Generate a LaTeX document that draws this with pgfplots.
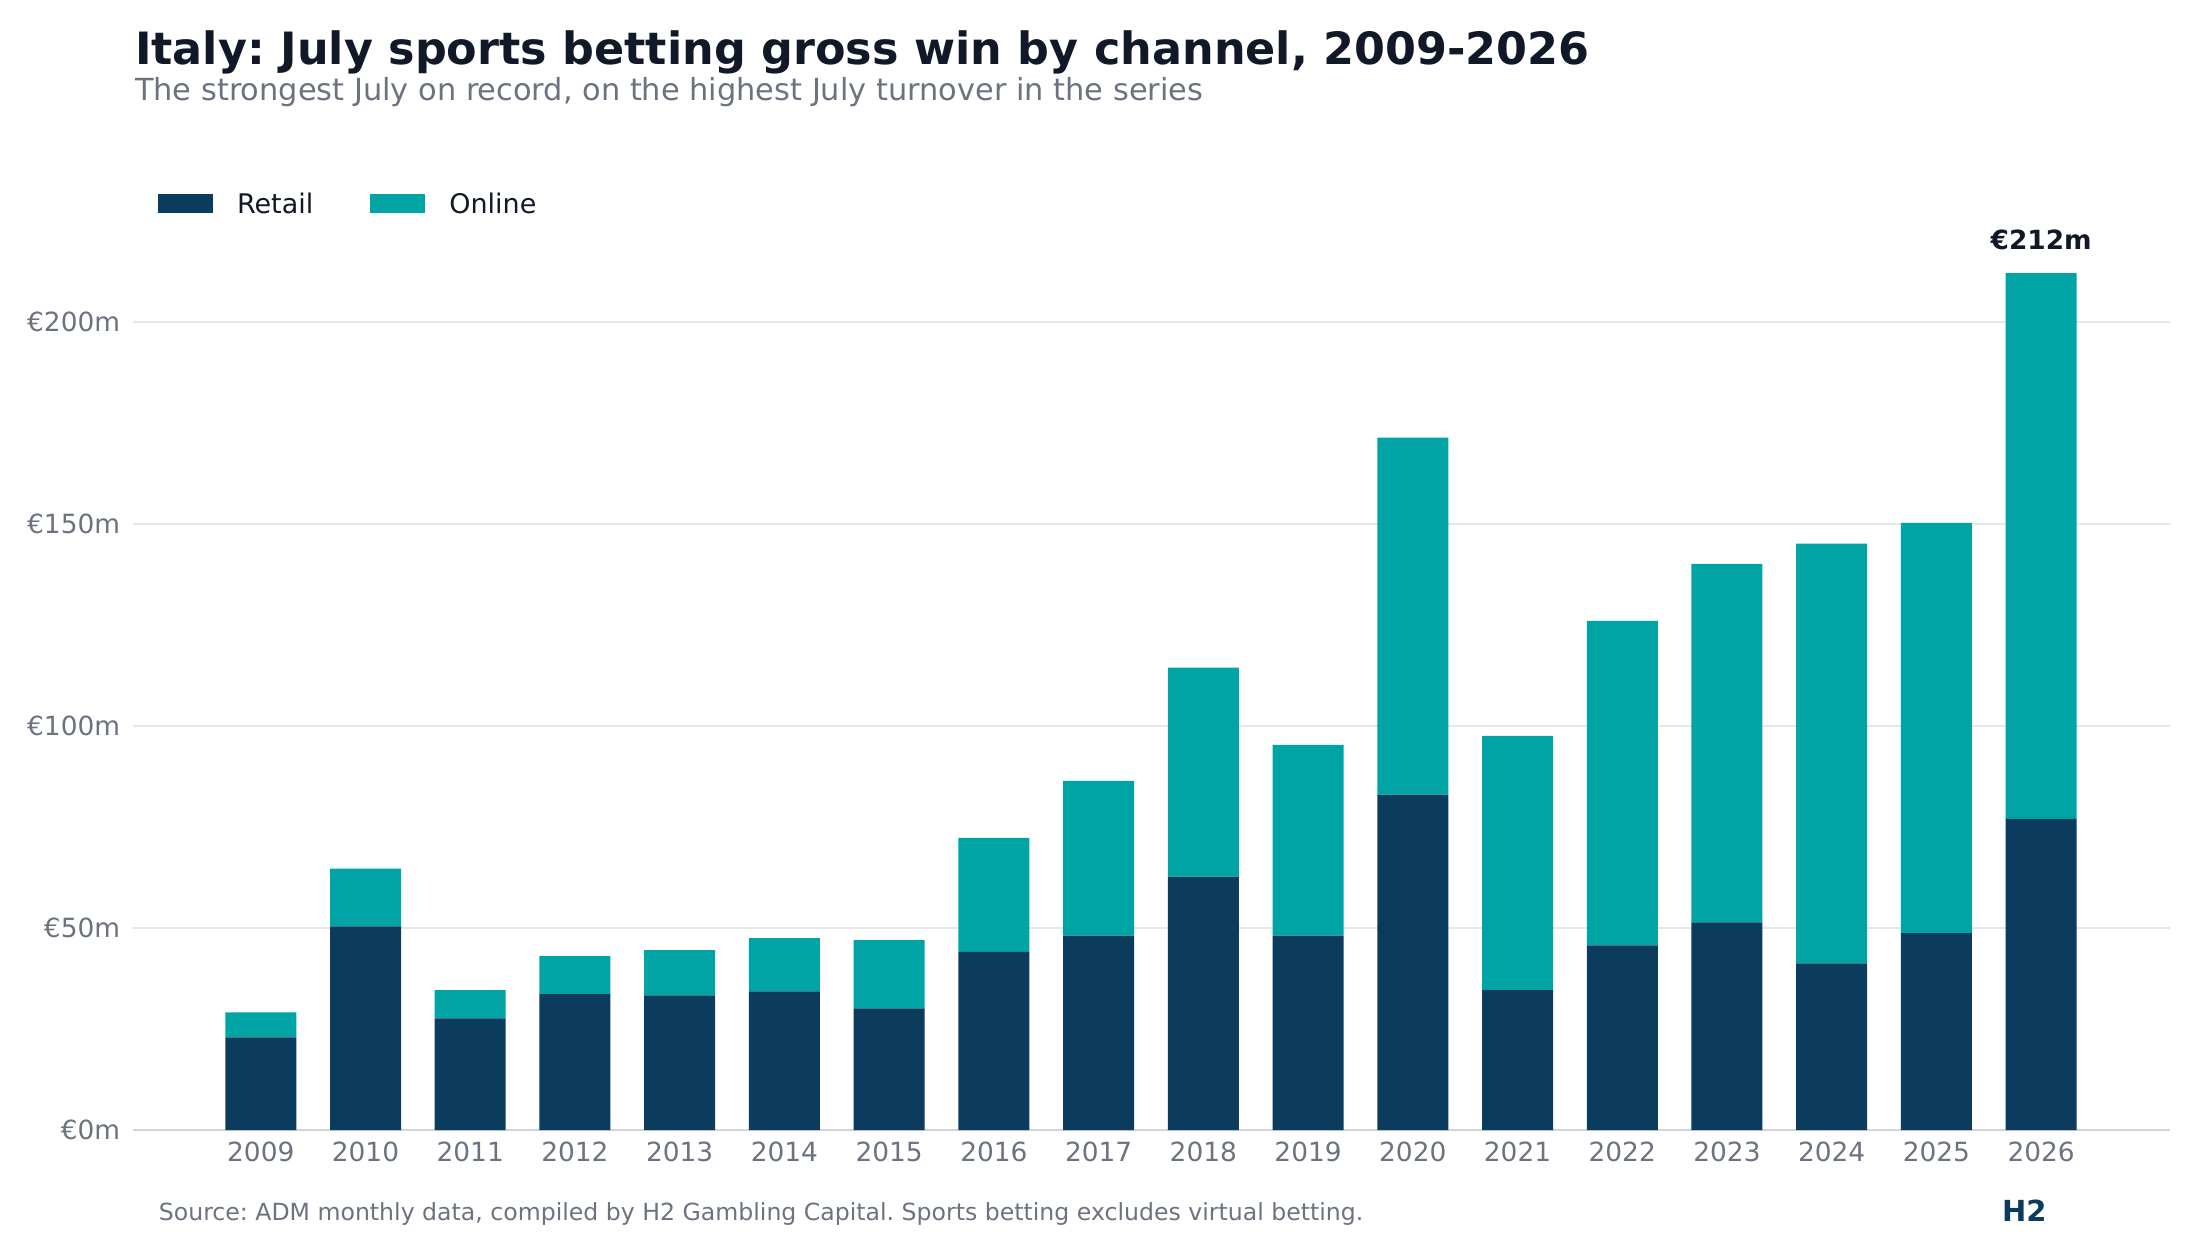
\documentclass[border=0pt]{standalone}
\usepackage{fontspec}
\setmainfont{DejaVu Sans}
\usepackage{pgfplots}
\pgfplotsset{compat=1.18}
\definecolor{retail}{HTML}{0B3C5D}
\definecolor{online}{HTML}{00A4A4}
\definecolor{titlec}{HTML}{111827}
\definecolor{subc}{HTML}{6B7280}
\definecolor{gridc}{HTML}{E5E7EB}
\definecolor{basec}{HTML}{D1D5DB}
\frenchspacing
\begin{document}
\begin{tikzpicture}
\useasboundingbox (0,0) rectangle (1100bp,620bp);
\begin{axis}[
  at={(66.5bp,55bp)}, anchor=south west,
  scale only axis, width=1018.5bp, height=454.67bp,
  xmin=-1.22, xmax=18.23, ymin=0, ymax=225,
  ybar stacked, bar width=35.5bp,
  xtick={0,...,17},
  xticklabels={2009,2010,2011,2012,2013,2014,2015,2016,2017,2018,2019,2020,2021,2022,2023,2024,2025,2026},
  ytick={0,50,100,150,200},
  yticklabels={€0m,€50m,€100m,€150m,€200m},
  axis lines*=left,
  x axis line style={draw=basec, line width=1.1bp},
  y axis line style={draw=none},
  major tick length=0pt,
  ymajorgrids, major grid style={draw=gridc, line width=1bp},
  tick label style={font=\fontsize{13.2bp}{15bp}\selectfont, text=subc},
  xticklabel style={anchor=north, inner sep=0pt, yshift=-5.8bp},
  yticklabel style={anchor=east, inner sep=0pt, xshift=-6.25bp},
  legend style={at={(axis description cs:0,1)}, anchor=south west, xshift=12.5bp, yshift=2bp,
    draw=none, fill=none, inner sep=0pt, outer sep=0pt,
    font=\fontsize{13.5bp}{15bp}\selectfont, text=titlec,
    nodes={inner sep=0pt},
    /tikz/every odd column/.append style={column sep=12bp},
    /tikz/every even column/.append style={column sep=28.5bp}},
  legend columns=2,
  legend image code/.code={\fill[#1] (0bp,-4.3bp) rectangle (27.5bp,5.5bp);},
  clip=false,
]
\addplot[fill=retail, draw=none] coordinates {
(0,22.9) (1,50.4) (2,27.6) (3,33.6) (4,33.3) (5,34.3) (6,30.1) (7,44.1) (8,48.1)
(9,62.7) (10,48.1) (11,83.0) (12,34.6) (13,45.7) (14,51.4) (15,41.2) (16,48.7) (17,77.0)};
\addplot[fill=online, draw=none] coordinates {
(0,6.2) (1,14.3) (2,7.0) (3,9.4) (4,11.2) (5,13.2) (6,16.9) (7,28.2) (8,38.3)
(9,51.7) (10,47.2) (11,88.3) (12,62.9) (13,80.3) (14,88.7) (15,103.9) (16,101.5) (17,135.0)};
\legend{Retail,Online}
\node[anchor=base, yshift=11.9bp, font=\bfseries\fontsize{13.2bp}{15bp}\selectfont, text=titlec] at (axis cs:17,212) {€212m};
\end{axis}
\node[anchor=base west, inner sep=0pt, font=\bfseries\fontsize{22.25bp}{26bp}\selectfont, text=titlec] at (67.35bp,587.85bp) {Italy: July sports betting gross win by channel, 2009-2026};
\node[anchor=base west, inner sep=0pt, font=\fontsize{15.2bp}{17bp}\selectfont, text=subc] at (67.35bp,569.65bp) {The strongest July on record, on the highest July turnover in the series};
\node[anchor=base west, inner sep=0pt, font=\fontsize{11.8bp}{13bp}\selectfont, text=subc] at (79.25bp,9.65bp) {Source: ADM monthly data, compiled by H2 Gambling Capital. Sports betting excludes virtual betting.};
\node[anchor=base west, inner sep=0pt, font=\bfseries\fontsize{14.5bp}{17bp}\selectfont, text=retail] at (1000.85bp,9.15bp) {H2};
\end{tikzpicture}
\end{document}
